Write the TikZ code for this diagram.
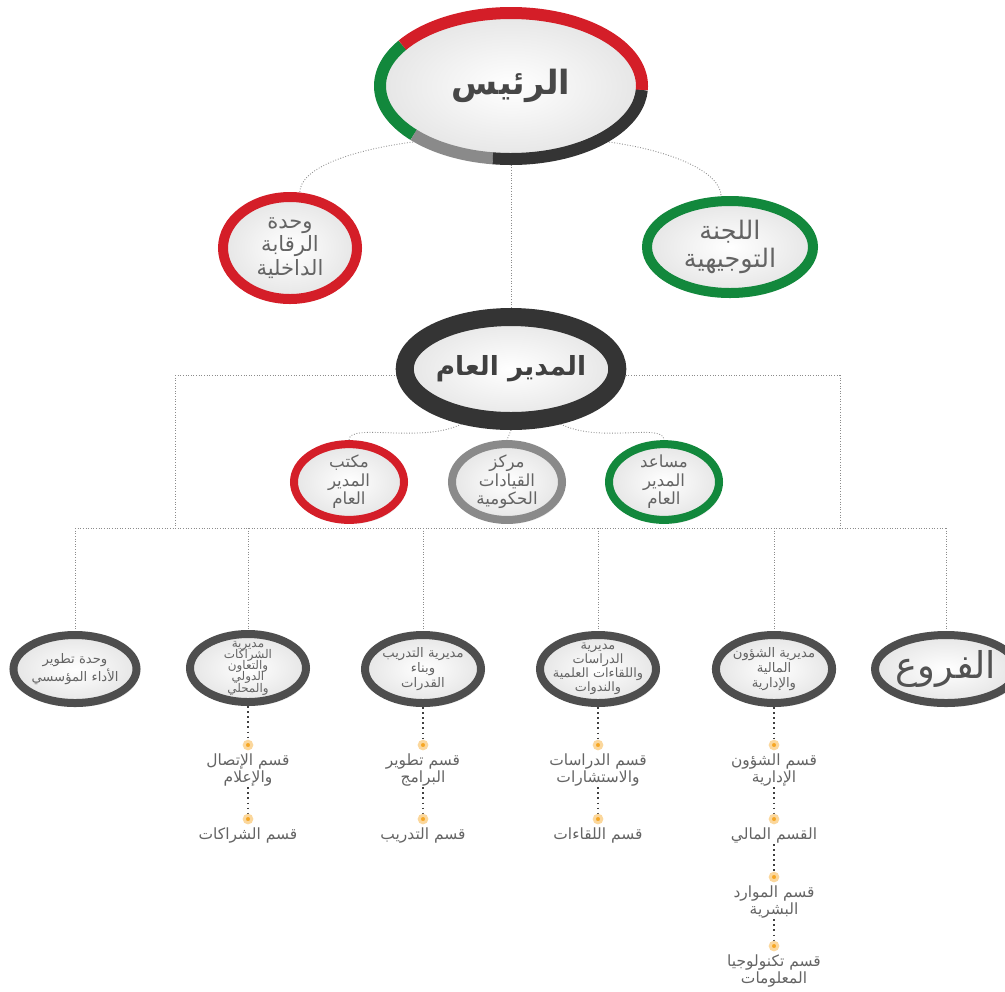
\documentclass[tikz,border=0pt]{standalone}
\usepackage{fontspec}
\newfontfamily\arabicfont[Script=Arabic]{DejaVu Sans}
\TeXXeTstate=1
\usetikzlibrary{shapes.geometric, positioning, backgrounds, shadows}

\definecolor{uaered}{RGB}{212,30,40}
\definecolor{uaegreen}{RGB}{18,136,60}
\definecolor{ringdark}{RGB}{52,52,52}
\definecolor{ringmid}{RGB}{78,78,78}
\definecolor{ringgray}{RGB}{138,138,138}
\definecolor{txtgray}{RGB}{100,100,100}
\definecolor{dotorange}{RGB}{246,166,35}

\newcommand{\artxt}[1]{\beginR #1\endR}
\newcommand{\tightlines}{\lineskiplimit -10pt\relax}

\tikzset{
	bubble/.style={ellipse, inner sep=0pt, align=center, shading=radial, inner color=white, outer color=black!10,
		text=txtgray, font=\arabicfont, drop shadow={opacity=0.15, shadow xshift=0.5mm, shadow yshift=-0.8mm}},
	midbubble/.style={bubble, line width=2mm},
	smallbubble/.style={bubble, line width=1.6mm, minimum width=22mm, minimum height=12.8mm, font=\arabicfont\fontsize{9.5}{10.5}\selectfont},
	unitbubble/.style={bubble, draw=ringmid, line width=1.6mm, minimum width=23.2mm, minimum height=13.6mm, font=\arabicfont\fontsize{7.5}{8.5}\selectfont},
	link/.style={densely dotted, black!45, line width=0.5pt},
	sublink/.style={dotted, black!75, line width=0.9pt},
	subdot/.style={circle, fill=dotorange, draw=dotorange!45, line width=0.6mm, inner sep=0pt, minimum size=1.5mm},
	sublabel/.style={font=\arabicfont\fontsize{8.8}{9.8}\selectfont, text=txtgray, align=center, inner sep=0.5pt}
}

\begin{document}
\begin{tikzpicture}[x=0.2mm, y=-0.2mm]
	\useasboundingbox (0,0) rectangle (1005,991);

	% top
	\node[bubble, minimum width=52.4mm, minimum height=29.2mm, text=black!72, font=\arabicfont\bfseries\fontsize{19}{22}\selectfont] (pres) at (511,86) {\artxt{الرئيس}};
	\foreach \col/\a/\b in {uaegreen/146/222, ringgray/222/262, ringdark/262/357, uaered/357/506}
		\draw[\col, line width=2.4mm] ([shift={(\a:26.2mm and 14.6mm)}]pres.center) arc[start angle=\a, end angle=\b, x radius=26.2mm, y radius=14.6mm];

	\node[midbubble, draw=uaered, minimum width=26.8mm, minimum height=20.4mm, font=\arabicfont\fontsize{12}{13.5}\selectfont] (audit) at (290,248) {\artxt{وحدة}\\\artxt{الرقابة}\\\artxt{الداخلية}};
	\node[midbubble, draw=uaegreen, minimum width=33.2mm, minimum height=18.4mm, font=\arabicfont\fontsize{14.5}{16}\selectfont] (steer) at (730,247) {\artxt{اللجنة}\\\artxt{التوجيهية}};

	\node[bubble, draw=ringdark, line width=3.6mm, minimum width=41.2mm, minimum height=20.8mm, text=black!75, font=\arabicfont\bfseries\fontsize{15}{18}\selectfont] (gm) at (511,369) {\artxt{المدير العام}};

	\node[smallbubble, draw=uaered] (office) at (349,482) {\artxt{مكتب}\\\artxt{المدير}\\\artxt{العام}};
	\node[smallbubble, draw=ringgray] (lead) at (507,482) {\artxt{مركز}\\\artxt{القيادات}\\\artxt{الحكومية}};
	\node[smallbubble, draw=uaegreen] (asst) at (664,482) {\artxt{مساعد}\\\artxt{المدير}\\\artxt{العام}};

	% units
	\node[unitbubble] (perf) at (75,669) {\artxt{وحدة تطوير}\\\artxt{الأداء المؤسسي}};
	\node[unitbubble, inner sep=-6mm, font=\arabicfont\fontsize{6.8}{6.4}\selectfont\tightlines] (part) at (248,668) {\artxt{مديرية}\\\artxt{الشراكات}\\\artxt{والتعاون}\\\artxt{الدولي}\\\artxt{والمحلي}};
	\node[unitbubble] (train) at (423,669) {\artxt{مديرية التدريب}\\\artxt{وبناء}\\\artxt{القدرات}};
	\node[unitbubble, inner sep=-3mm, font=\arabicfont\fontsize{7.3}{8}\selectfont\tightlines] (stud) at (598,669) {\artxt{مديرية}\\\artxt{الدراسات}\\\artxt{واللقاءات العلمية}\\\artxt{والندوات}};
	\node[unitbubble] (fin) at (774,669) {\artxt{مديرية الشؤون}\\\artxt{المالية}\\\artxt{والإدارية}};
	\node[unitbubble, text=black!68, font=\arabicfont\fontsize{21}{22}\selectfont] (branch) at (946,669) {\artxt{الفروع}};

	% sections
	\node[subdot] (partd1) at (248,745) {};
	\node[sublabel, below=1pt of partd1] (partl1) {\artxt{قسم الإتصال}\\\artxt{والإعلام}};
	\node[subdot] (partd2) at (248,819) {};
	\node[sublabel, below=1pt of partd2] (partl2) {\artxt{قسم الشراكات}};

	\node[subdot] (traind1) at (423,745) {};
	\node[sublabel, below=1pt of traind1] (trainl1) {\artxt{قسم تطوير}\\\artxt{البرامج}};
	\node[subdot] (traind2) at (423,819) {};
	\node[sublabel, below=1pt of traind2] (trainl2) {\artxt{قسم التدريب}};

	\node[subdot] (studd1) at (598,745) {};
	\node[sublabel, below=1pt of studd1] (studl1) {\artxt{قسم الدراسات}\\\artxt{والاستشارات}};
	\node[subdot] (studd2) at (598,819) {};
	\node[sublabel, below=1pt of studd2] (studl2) {\artxt{قسم اللقاءات}};

	\node[subdot] (find1) at (774,745) {};
	\node[sublabel, below=1pt of find1] (finl1) {\artxt{قسم الشؤون}\\\artxt{الإدارية}};
	\node[subdot] (find2) at (774,819) {};
	\node[sublabel, below=1pt of find2] (finl2) {\artxt{القسم المالي}};
	\node[subdot] (find3) at (774,877) {};
	\node[sublabel, below=1pt of find3] (finl3) {\artxt{قسم الموارد}\\\artxt{البشرية}};
	\node[subdot] (find4) at (774,946) {};
	\node[sublabel, below=1pt of find4] (finl4) {\artxt{قسم تكنولوجيا}\\\artxt{المعلومات}};

	\coordinate (barl) at (175,375);
	\coordinate (barr) at (840,375);
	\coordinate (lowl) at (75,528);
	\coordinate (lowr) at (946,528);

	\begin{scope}[on background layer]
		\draw[link] (pres.south) -- (gm.north);
		\draw[link] (pres.212) .. controls +(-70,8) and +(0,-25) .. (audit.80);
		\draw[link] (pres.328) .. controls +(70,8) and +(0,-25) .. (steer.100);
		\draw[link] (gm.south) -- (lead.north);
		\draw[link] (gm.228) .. controls +(-40,20) and +(0,-18) .. (office.north);
		\draw[link] (gm.312) .. controls +(40,20) and +(0,-18) .. (asst.north);
		\draw[link] (barl) -- (barr);
		\draw[link] (barl) -- (barl |- lowl);
		\draw[link] (barr) -- (barr |- lowl);
		\draw[link] (lowl) -- (lowr);
		\foreach \u in {perf, part, train, stud, fin, branch}
			\draw[link] (\u.north |- lowl) -- (\u.north);
		\foreach \u in {part, train, stud, fin}
			\draw[sublink] (\u.south) -- (\u d1);
		\foreach \u in {part, train, stud, fin}
			\draw[sublink] (\u l1) -- (\u d2);
		\draw[sublink] (finl2) -- (find3);
		\draw[sublink] (finl3) -- (find4);
	\end{scope}
\end{tikzpicture}
\end{document}
